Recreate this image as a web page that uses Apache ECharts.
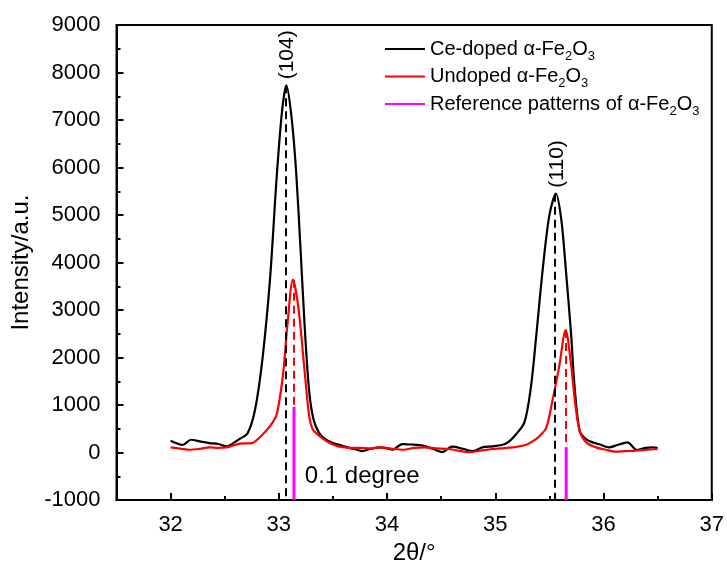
<!DOCTYPE html>
<html><head><meta charset="utf-8">
<script src="https://cdn.jsdelivr.net/npm/echarts@6/dist/echarts.min.js"></script>
<style>html,body{margin:0;padding:0;background:#fff}#c{width:727px;height:570px}</style>
</head><body><div id="c"></div>
<script>
// ---- data ----
const ceX = [32.00,32.05,32.11,32.19,32.28,32.36,32.44,32.52,32.58,32.64,32.71,32.78,32.85,32.92,32.98,33.03,33.07,33.12,33.16,33.20,33.24,33.28,33.32,33.37,33.42,33.50,33.58,33.65,33.72,33.77,33.85,33.93,34.00,34.05,34.14,34.22,34.33,34.42,34.51,34.60,34.70,34.79,34.88,34.97,35.06,35.12,35.19,35.27,35.33,35.38,35.44,35.50,35.56,35.61,35.65,35.70,35.73,35.78,35.84,35.90,35.97,36.05,36.13,36.22,36.31,36.39,36.45,36.50];
const ceY = [250,200,160,270,230,200,180,130,200,290,400,900,2000,3700,5800,7200,7730,7000,5900,4300,2600,1300,700,420,300,200,150,100,60,30,80,110,90,60,180,170,145,80,10,125,80,30,110,130,160,220,380,640,1400,2500,3900,5000,5450,4900,3900,2500,1460,450,280,215,170,110,160,215,55,100,110,100];
const unX = [32.00,32.10,32.18,32.27,32.36,32.44,32.52,32.58,32.64,32.75,32.85,32.92,32.98,33.04,33.08,33.13,33.18,33.24,33.28,33.31,33.35,33.41,33.47,33.55,33.65,33.75,33.85,33.95,34.05,34.15,34.25,34.35,34.45,34.57,34.66,34.76,34.86,34.97,35.06,35.16,35.28,35.34,35.40,35.47,35.53,35.59,35.65,35.70,35.74,35.78,35.84,35.93,36.02,36.11,36.20,36.30,36.40,36.50];
const unY = [110,80,60,80,110,100,110,150,190,200,380,560,800,1670,2710,3640,3060,1670,770,500,400,290,200,130,100,100,90,110,80,60,100,110,90,75,40,10,40,75,90,110,160,230,330,520,1120,1810,2580,1850,1000,450,215,110,60,20,30,40,60,75];
const refX = [33.14, 35.655];
const refY = [960, 110];
const ceDashX = [33.06, 35.545];
const ceDashTop = [7730, 5450];
const unDashTop = [3640, 2580];
const peakLabels = ['(104)', '(110)'];
const xTicks = [32, 33, 34, 35, 36, 37];
const xMinor = [32.5, 33.5, 34.5, 35.5, 36.5];
const names = ['Ce-doped α-Fe2O3', 'Undoped α-Fe2O3', 'Reference patterns of α-Fe2O3'];

const FONT = 'Liberation Sans, Arial, sans-serif';
const zip = (a, b) => a.map((v, i) => [v, b[i]]);

const chart = echarts.init(document.getElementById('c'), null, {renderer: 'canvas'});

const refSeries = refX.map((x, i) => ({
  name: names[2], type: 'line', symbol: 'none', silent: true,
  lineStyle: {color: '#ff00ff', width: 3}, itemStyle: {color: '#ff00ff'},
  data: [[x, -1000], [x, refY[i]]], z: 4
}));

chart.setOption({
  animation: false,
  grid: {left: 116.5, top: 25, right: 14, bottom: 65, show: true, borderColor: '#000', borderWidth: 2, backgroundColor: 'transparent'},
  legend: {
    orient: 'vertical', left: 380, top: 34, itemGap: 4,
    itemWidth: 40, itemHeight: 2, icon: 'rect', itemStyle: {borderWidth: 0},
    data: names,
    textStyle: {fontFamily: FONT, fontSize: 20, color: '#000', rich: {
      s: {fontFamily: FONT, fontSize: 13, color: '#000', padding: [14, 0, 0, 0]}
    }},
    formatter: n => n.replace('Fe2O3', 'Fe{s|2}O{s|3}')
  },
  xAxis: [{
    type: 'value', min: 31.5, max: 37, interval: 0.5,
    name: '2θ/°', nameLocation: 'middle', nameGap: 35,
    nameTextStyle: {fontFamily: FONT, fontSize: 24, color: '#000'},
    axisLine: {onZero: false, lineStyle: {color: '#000', width: 2}},
    axisTick: {inside: true, length: 7, lineStyle: {color: '#000', width: 2}, customValues: xTicks},
    axisLabel: {fontFamily: FONT, fontSize: 22, color: '#000', margin: 14, customValues: xTicks},
    splitLine: {show: false}
  }, {
    type: 'value', min: 31.5, max: 37, interval: 0.5, position: 'bottom',
    axisLine: {show: false, onZero: false},
    axisTick: {inside: true, length: 4, lineStyle: {color: '#000', width: 2}, customValues: xMinor},
    axisLabel: {show: false}, splitLine: {show: false}
  }],
  yAxis: {
    type: 'value', min: -1000, max: 9000, interval: 1000,
    name: 'Intensity/a.u.', nameLocation: 'middle', nameGap: 80,
    nameTextStyle: {fontFamily: FONT, fontSize: 24, color: '#000'},
    axisLine: {show: true, onZero: false, lineStyle: {color: '#000', width: 2}},
    axisTick: {inside: true, length: 7, lineStyle: {color: '#000', width: 2}},
    minorTick: {show: true, splitNumber: 2, length: 4, lineStyle: {color: '#000', width: 2}},
    axisLabel: {fontFamily: FONT, fontSize: 22, color: '#000', margin: 16, formatter: v => String(v)},
    splitLine: {show: false}
  },
  series: [
    {name: names[0], type: 'line', symbol: 'none', smooth: 0.3, data: zip(ceX, ceY),
     lineStyle: {color: '#000', width: 2.2}, itemStyle: {color: '#000'}, z: 3,
     markLine: {silent: true, symbol: 'none', label: {show: false},
       lineStyle: {color: '#000', width: 2, type: [8, 5]},
       data: ceDashX.map((x, i) => [{coord: [x, ceDashTop[i]]}, {coord: [x, -1000]}])}},
    {name: names[1], type: 'line', symbol: 'none', smooth: 0.3, data: zip(unX, unY),
     lineStyle: {color: '#ff0000', width: 2.2}, itemStyle: {color: '#ff0000'}, z: 3,
     markLine: {silent: true, symbol: 'none', label: {show: false},
       lineStyle: {color: '#ff0000', width: 2, type: [8, 5]},
       data: refX.map((x, i) => [{coord: [x, unDashTop[i]]}, {coord: [x, refY[i]]}])}},
    ...refSeries
  ]
});

// annotations positioned via the axis scale
const g = [];
const p1 = chart.convertToPixel({xAxisIndex: 0, yAxisIndex: 0}, [ceX[16], ceY[16]]);
const p2 = chart.convertToPixel({xAxisIndex: 0, yAxisIndex: 0}, [ceX[52], ceY[52]]);
[p1, p2].forEach((p, i) => {
  g.push({type: 'text', x: p[0] + 1, y: p[1] - 6, rotation: Math.PI / 2,
    style: {text: peakLabels[i], fontFamily: FONT, fontSize: 21, fill: '#000', align: 'left', verticalAlign: 'middle'}});
});
const t = chart.convertToPixel({xAxisIndex: 0, yAxisIndex: 0}, [33.24, -500]);
g.push({type: 'text', x: t[0], y: t[1], style: {text: '0.1 degree', fontFamily: FONT, fontSize: 24, fill: '#000', align: 'left', verticalAlign: 'middle'}});
chart.setOption({graphic: g});
</script>
</body></html>
